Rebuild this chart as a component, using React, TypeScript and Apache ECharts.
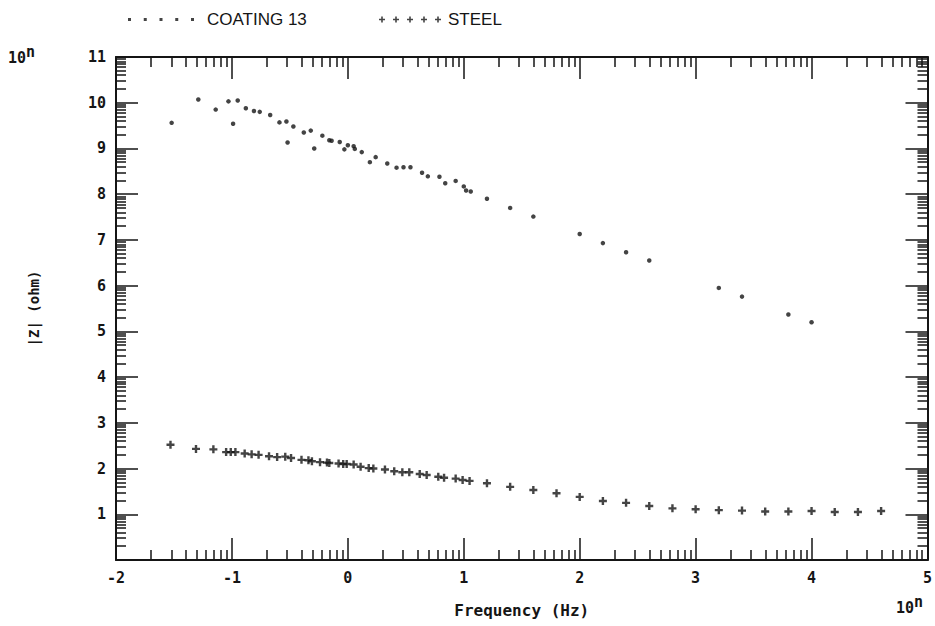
import React, { useEffect, useRef } from "react";
import * as echarts from "echarts";

// log10(frequency / Hz) and log10(|Z| / ohm)
const coatingLogF = [
  -1.52, -1.29, -1.14, -1.03, -0.99, -0.95, -0.88, -0.81, -0.76, -0.67,
  -0.59, -0.53, -0.52, -0.47, -0.38, -0.32, -0.29, -0.22, -0.16, -0.14,
  -0.07, -0.03, 0.0, 0.05, 0.06, 0.12, 0.19, 0.24, 0.34, 0.42,
  0.48, 0.54, 0.64, 0.69, 0.79, 0.84, 0.93, 1.0, 1.02, 1.06,
  1.2, 1.4, 1.6, 2.0, 2.2, 2.4, 2.6, 3.2, 3.4, 3.8, 4.0,
];
const coatingLogZ = [
  9.56, 10.07, 9.85, 10.03, 9.54, 10.05, 9.88, 9.82, 9.8, 9.73,
  9.57, 9.59, 9.13, 9.48, 9.35, 9.39, 9.0, 9.28, 9.18, 9.17,
  9.14, 8.98, 9.07, 9.05, 8.99, 8.92, 8.7, 8.81, 8.67, 8.58,
  8.59, 8.59, 8.47, 8.39, 8.38, 8.24, 8.29, 8.17, 8.08, 8.06,
  7.9, 7.7, 7.51, 7.13, 6.93, 6.73, 6.55, 5.95, 5.76, 5.37, 5.2,
];
const steelLogF = [
  -1.53, -1.31, -1.16, -1.05, -1.01, -0.97, -0.89, -0.83, -0.77, -0.68,
  -0.61, -0.54, -0.49, -0.4, -0.34, -0.31, -0.24, -0.18, -0.16, -0.08,
  -0.04, -0.01, 0.05, 0.11, 0.18, 0.22, 0.32, 0.4, 0.47, 0.53,
  0.62, 0.68, 0.78, 0.83, 0.93, 0.99, 1.05, 1.2, 1.4, 1.6,
  1.8, 2.0, 2.2, 2.4, 2.6, 2.8, 3.0, 3.2, 3.4, 3.6,
  3.8, 4.0, 4.2, 4.4, 4.6,
];
const steelLogZ = [
  2.52, 2.43, 2.42, 2.36, 2.36, 2.36, 2.33, 2.31, 2.3, 2.27,
  2.25, 2.26, 2.23, 2.19, 2.18, 2.16, 2.14, 2.13, 2.12, 2.11,
  2.1, 2.1, 2.09, 2.04, 2.01, 2.0, 1.98, 1.94, 1.92, 1.92,
  1.88, 1.86, 1.82, 1.8, 1.78, 1.75, 1.73, 1.68, 1.6, 1.53,
  1.46, 1.38, 1.29, 1.25, 1.18, 1.13, 1.11, 1.09, 1.08, 1.06,
  1.06, 1.07, 1.05, 1.05, 1.07,
];

const seriesNames = ["COATING 13", "STEEL"];
const xDecades = [-2, -1, 0, 1, 2, 3, 4, 5];
const yDecades = [0, 1, 2, 3, 4, 5, 6, 7, 8, 9, 10, 11];
const xAxisTitle = "Frequency (Hz)";
const yAxisTitle = "|Z| (ohm)";
const exponentBase = "10";
const exponentSup = "n";

const INK = "#151515";
const MONO = "'DejaVu Sans Mono', 'Liberation Mono', monospace";

// minor (log-spaced) tick positions within each decade
const minorTicks = (decades: number[]) => {
  const out: number[] = [];
  for (let i = 0; i < decades.length - 1; i++) {
    for (let k = 2; k <= 9; k++) out.push(decades[i] + Math.log10(k));
  }
  return out;
};

const PLUS = "path://M2.8,0h2.4v2.8h2.8v2.4h-2.8v2.8h-2.4v-2.8h-2.8v-2.4h2.8z";
const DOTS_ICON =
  "path://M0,0h3v3h-3z M15.75,0h3v3h-3z M31.5,0h3v3h-3z M47.25,0h3v3h-3z M63,0h3v3h-3z";
const PLUS_ICON = (() => {
  let d = "path://";
  for (let i = 0; i < 5; i++) {
    const x = i * 14;
    d += `M${x + 2.2},0h1.6v2.2h2.2v1.6h-2.2v2.2h-1.6v-2.2h-2.2v-1.6h2.2z `;
  }
  return d;
})();

export default function App() {
  const ref = useRef<HTMLDivElement>(null);

  useEffect(() => {
    if (!ref.current) return;
    const chart = echarts.init(ref.current, null, { renderer: "svg" });
    const xMin = xDecades[0];
    const xMax = xDecades[xDecades.length - 1];
    const yMin = yDecades[0];
    const yMax = yDecades[yDecades.length - 1];
    const xMinor = minorTicks(xDecades);
    const yMinor = minorTicks(yDecades);

    const baseX = (position: "bottom" | "top", minor: boolean, labels: boolean) => ({
      type: "value",
      gridIndex: 0,
      position,
      min: xMin,
      max: xMax,
      interval: 1,
      axisLine: { show: !minor, onZero: false, lineStyle: { color: INK, width: 2 } },
      axisTick: minor
        ? { show: true, inside: true, length: 10, customValues: xMinor, lineStyle: { color: INK, width: 1.5 } }
        : { show: true, inside: true, length: 22, lineStyle: { color: INK, width: 1.5 } },
      axisLabel: labels
        ? {
            show: true,
            showMinLabel: true,
            showMaxLabel: true,
            margin: 10,
            color: INK,
            fontFamily: MONO,
            fontWeight: "bold",
            fontSize: 15,
          }
        : { show: false },
      splitLine: { show: false },
      ...(labels
        ? {
            name: xAxisTitle,
            nameLocation: "middle",
            nameGap: 42,
            nameTextStyle: { color: INK, fontFamily: MONO, fontWeight: "bold", fontSize: 16 },
          }
        : {}),
    });

    const baseY = (position: "left" | "right", minor: boolean, labels: boolean) => ({
      type: "value",
      gridIndex: 0,
      position,
      min: yMin,
      max: yMax,
      interval: 1,
      axisLine: { show: !minor, onZero: false, lineStyle: { color: INK, width: 2 } },
      axisTick: minor
        ? { show: true, inside: true, length: 10, customValues: yMinor, lineStyle: { color: INK, width: 1.5 } }
        : { show: true, inside: true, length: 22, lineStyle: { color: INK, width: 1.5 } },
      axisLabel: labels
        ? {
            show: true,
            showMinLabel: true,
            showMaxLabel: true,
            margin: 10,
            color: INK,
            fontFamily: MONO,
            fontWeight: "bold",
            fontSize: 15,
            formatter: (v: number) => (v === 0 ? "" : String(v)),
          }
        : { show: false },
      splitLine: { show: false },
      ...(labels
        ? {
            name: yAxisTitle,
            nameLocation: "middle",
            nameGap: 75,
            nameTextStyle: { color: INK, fontFamily: MONO, fontWeight: "bold", fontSize: 14 },
          }
        : {}),
    });

    chart.setOption({
      animation: false,
      backgroundColor: "#ffffff",
      grid: { left: 116, right: 7, top: 57, bottom: 66, containLabel: false },
      legend: [
        {
          data: [{ name: seriesNames[0], icon: DOTS_ICON }],
          left: 123,
          top: 6,
          itemWidth: 66,
          itemHeight: 3,
          selectedMode: false,
          textStyle: {
            color: INK,
            fontFamily: "'Liberation Sans', Arial, sans-serif",
            fontSize: 17,
            padding: [0, 0, 0, 8],
          },
        },
        {
          data: [{ name: seriesNames[1], icon: PLUS_ICON }],
          left: 374,
          top: 6,
          itemWidth: 62,
          itemHeight: 6,
          selectedMode: false,
          textStyle: {
            color: INK,
            fontFamily: "'Liberation Sans', Arial, sans-serif",
            fontSize: 17,
            padding: [0, 0, 0, 2],
          },
        },
      ],
      xAxis: [baseX("bottom", false, true), baseX("bottom", true, false), baseX("top", false, false), baseX("top", true, false)],
      yAxis: [baseY("left", false, true), baseY("left", true, false), baseY("right", false, false), baseY("right", true, false)],
      graphic: [
        {
          type: "text",
          left: 8,
          top: 50,
          style: { text: exponentBase, fill: INK, font: `bold 15px ${MONO}` },
        },
        {
          type: "text",
          left: 26,
          top: 44,
          style: { text: exponentSup, fill: INK, font: `bold 15px ${MONO}` },
        },
        {
          type: "text",
          left: 896,
          top: 600,
          style: { text: exponentBase, fill: INK, font: `bold 15px ${MONO}` },
        },
        {
          type: "text",
          left: 914,
          top: 594,
          style: { text: exponentSup, fill: INK, font: `bold 15px ${MONO}` },
        },
      ],
      series: [
        {
          name: seriesNames[0],
          type: "scatter",
          xAxisIndex: 0,
          yAxisIndex: 0,
          symbol: "circle",
          symbolSize: 4.5,
          itemStyle: { color: INK },
          data: coatingLogF.map((f, i) => [f, coatingLogZ[i]]),
        },
        {
          name: seriesNames[1],
          type: "scatter",
          xAxisIndex: 0,
          yAxisIndex: 0,
          symbol: PLUS,
          symbolSize: 8,
          itemStyle: { color: INK },
          data: steelLogF.map((f, i) => [f, steelLogZ[i]]),
        },
      ],
    });

    return () => chart.dispose();
  }, []);

  return (
    <div
      ref={ref}
      style={{ position: "fixed", left: 0, top: 0, width: 935, height: 626, background: "#fff" }}
    />
  );
}
